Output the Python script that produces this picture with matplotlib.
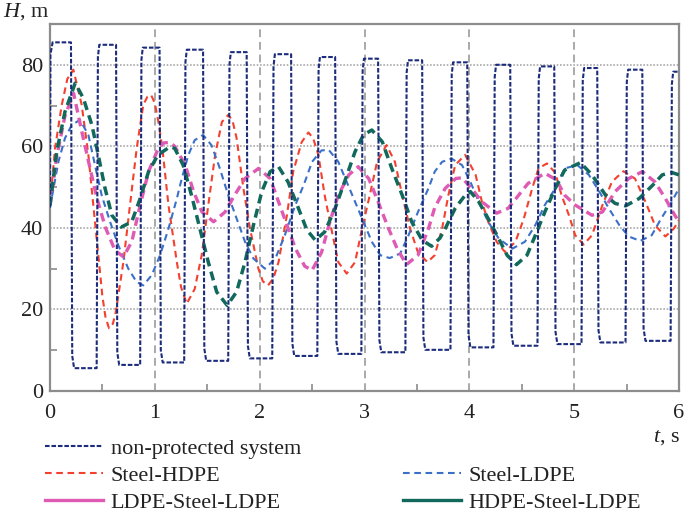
import matplotlib
matplotlib.use("Agg")
import matplotlib.pyplot as plt
from matplotlib.lines import Line2D
import numpy as np

# ---------------- data ----------------
# non-protected system: square-wave plateaus
np_rise_t = [0.00, 0.445, 0.86, 1.28, 1.70, 2.12, 2.55, 2.97, 3.39, 3.82, 4.23, 4.65, 5.07, 5.49, 5.92]
np_fall_t = [0.20, 0.63, 1.045, 1.46, 1.876, 2.30, 2.72, 3.13, 3.55, 3.98, 4.39, 4.81, 5.22, 5.65]
np_high = [85.5, 84.9, 84.2, 83.7, 83.1, 82.6, 81.9, 81.5, 81.1, 80.6, 80.0, 79.6, 79.2, 78.8, 78.3]
np_low = [5.6, 6.4, 7.0, 7.4, 8.0, 8.6, 9.1, 9.5, 10.1, 10.7, 11.1, 11.5, 11.9, 12.3]
np_start = 45.0

hdpe_t = [0, 0.048, 0.111, 0.165, 0.223, 0.302, 0.366, 0.413, 0.461, 0.499, 0.53, 0.563, 0.60, 0.627,
          0.70, 0.763, 0.827, 0.89, 0.93, 0.964, 1.0, 1.034, 1.072, 1.13, 1.21, 1.25, 1.304, 1.38, 1.447, 1.51,
          1.575, 1.64, 1.70, 1.74, 1.78, 1.845, 1.908, 1.988, 2.03, 2.08, 2.13, 2.18, 2.26, 2.32, 2.40, 2.465,
          2.51, 2.56, 2.62, 2.69, 2.75, 2.83, 2.91, 2.97, 3.05, 3.12, 3.21, 3.29, 3.36, 3.435, 3.51, 3.60,
          3.67, 3.74, 3.80, 3.865, 3.96, 4.06, 4.12, 4.18, 4.26, 4.34, 4.44, 4.52, 4.60, 4.66, 4.74, 4.82,
          4.88, 4.95, 5.01, 5.09, 5.17, 5.27, 5.36, 5.47, 5.58, 5.68, 5.77, 5.87, 5.95, 6.0]
hdpe_h = [45.5, 59.5, 70.0, 76.5, 78.8, 70.2, 57.9, 45.6, 33.3, 23.4, 18.0, 15.4, 16.5, 19.3,
          31.6, 45.6, 59.5, 70.2, 72.2, 72.6, 70.6, 66.0, 59.5, 45.6, 31.6, 25.5, 21.4, 25.0, 33.3, 45.6,
          57.9, 66.0, 67.7, 66.4, 62.0, 49.7, 39.8, 30.0, 26.9, 25.9, 27.6, 31.6, 43.1, 53.8, 61.0, 63.4,
          62.0, 57.9, 48.0, 39.0, 31.6, 28.8, 31.6, 39.0, 48.0, 56.2, 60.3, 56.2, 48.0, 39.8, 34.0, 31.6,
          33.3, 39.8, 48.0, 55.4, 57.9, 53.0, 46.4, 41.5, 36.6, 34.1, 36.6, 42.3, 49.7, 54.6, 55.8, 53.5,
          48.0, 43.1, 38.2, 35.9, 38.2, 45.6, 51.3, 53.9, 52.1, 46.4, 40.7, 37.9, 39.8, 41.9]

ldpe_t = [0, 0.08, 0.143, 0.207, 0.286, 0.366, 0.429, 0.493, 0.573, 0.652, 0.747, 0.827, 0.89, 0.97,
          1.05, 1.13, 1.21, 1.256, 1.32, 1.38, 1.46, 1.54, 1.62, 1.70, 1.78, 1.86, 1.94, 2.05, 2.15,
          2.24, 2.34, 2.42, 2.50, 2.59, 2.66, 2.75, 2.83, 2.91, 2.99, 3.07, 3.15, 3.24, 3.34, 3.42,
          3.51, 3.61, 3.67, 3.74, 3.83, 3.93, 4.01, 4.09, 4.18, 4.28, 4.41, 4.53, 4.63, 4.72, 4.82,
          4.91, 5.03, 5.14, 5.24, 5.33, 5.43, 5.52, 5.63, 5.74, 5.83, 5.93, 6.0]
ldpe_h = [45.0, 56.2, 62.0, 65.2, 66.5, 62.8, 55.4, 48.0, 41.5, 35.7, 30.0, 26.7, 25.9, 28.4,
          33.3, 39.8, 47.2, 52.0, 57.9, 61.5, 62.8, 60.3, 54.6, 48.0, 42.3, 36.6, 32.5, 30.0, 32.5,
          38.2, 45.6, 50.5, 56.2, 59.0, 59.1, 56.2, 51.3, 46.4, 41.5, 36.6, 33.3, 32.6, 33.7, 38.2,
          43.9, 49.7, 53.8, 56.2, 57.0, 55.4, 51.3, 46.4, 41.5, 37.4, 34.9, 36.6, 40.7, 45.6, 49.7,
          54.6, 55.4, 53.0, 48.9, 44.8, 40.7, 37.9, 36.8, 38.2, 42.3, 46.4, 49.7]

lsl_t = [0, 0.064, 0.143, 0.225, 0.30, 0.37, 0.45, 0.53, 0.62, 0.70, 0.78, 0.86, 0.94, 1.02, 1.08,
         1.14, 1.19, 1.29, 1.37, 1.45, 1.56, 1.67, 1.76, 1.86, 1.99, 2.10, 2.18, 2.26, 2.34, 2.43,
         2.50, 2.59, 2.67, 2.75, 2.85, 2.94, 3.04, 3.13, 3.23, 3.31, 3.40, 3.51, 3.61, 3.67, 3.77,
         3.87, 3.93, 4.02, 4.12, 4.26, 4.37, 4.47, 4.56, 4.72, 4.83, 4.91, 5.01, 5.17, 5.27, 5.39,
         5.52, 5.65, 5.77, 5.87, 5.96, 6.0]
lsl_h = [45.5, 57.5, 67.5, 73.0, 64.0, 56.0, 47.0, 40.0, 34.5, 32.9, 36.6, 45.6, 53.8, 58.7, 60.8,
         61.0, 60.0, 55.4, 48.9, 43.9, 41.5, 43.9, 48.0, 52.1, 54.6, 52.1, 46.4, 40.7, 35.0, 30.6,
         29.6, 34.0, 41.5, 48.0, 53.0, 55.0, 52.1, 46.4, 39.8, 35.0, 31.0, 33.3, 39.8, 45.0, 49.7,
         52.1, 52.3, 49.7, 46.4, 43.6, 44.8, 48.0, 50.9, 53.4, 51.8, 48.0, 45.6, 43.1, 43.9, 48.9,
         52.1, 53.8, 51.3, 47.2, 43.1, 41.5]

hsl_t = [0, 0.064, 0.143, 0.24, 0.318, 0.40, 0.46, 0.525, 0.59, 0.68, 0.78, 0.86, 0.94, 1.03, 1.145,
         1.19, 1.27, 1.35, 1.43, 1.51, 1.59, 1.69, 1.78, 1.86, 1.94, 2.02, 2.10, 2.18, 2.27, 2.37,
         2.45, 2.53, 2.62, 2.72, 2.81, 2.91, 2.99, 3.07, 3.17, 3.26, 3.36, 3.45, 3.55, 3.64, 3.72,
         3.77, 3.865, 3.96, 4.01, 4.09, 4.18, 4.28, 4.36, 4.45, 4.55, 4.63, 4.72, 4.82, 4.91, 5.06,
         5.17, 5.30, 5.39, 5.49, 5.62, 5.75, 5.84, 5.93, 6.0]
hsl_h = [45.5, 58.7, 68.5, 75.5, 71.8, 65.2, 57.9, 49.7, 43.1, 40.2, 41.5, 47.2, 53.8, 57.9, 59.9,
         59.5, 55.4, 48.0, 39.8, 31.6, 24.3, 21.0, 24.3, 31.6, 40.6, 48.9, 53.8, 55.0, 51.3, 44.8,
         39.5, 37.0, 39.0, 44.8, 51.3, 58.7, 62.8, 64.0, 61.1, 54.6, 48.0, 41.5, 37.0, 35.5, 37.5,
         39.8, 44.8, 48.0, 48.9, 46.4, 42.3, 37.4, 33.3, 31.0, 33.3, 38.2, 43.9, 49.7, 54.2, 56.0,
         53.0, 48.0, 46.0, 45.4, 47.2, 50.5, 53.0, 53.6, 53.0]

labels = ["non-protected system", "Steel-HDPE", "Steel-LDPE", "LDPE-Steel-LDPE", "HDPE-Steel-LDPE"]
x_ticks = [0, 1, 2, 3, 4, 5, 6]
y_ticks = [0, 20, 40, 60, 80]

# ---------------- build square wave polyline from plateau data ----------------
np_t = [0.0]
np_h = [np_start]
for i in range(len(np_rise_t)):
    np_t += [np_rise_t[i] + 0.012, np_rise_t[i] + 0.025]
    np_h += [np_high[i] - 3.0, np_high[i]]
    if i < len(np_fall_t):
        np_t += [np_fall_t[i], np_fall_t[i] + 0.012, np_fall_t[i] + 0.03]
        np_h += [np_high[i], np_low[i] + 3.0, np_low[i]]
        nxt = np_rise_t[i + 1]
        np_t += [nxt]
        np_h += [np_low[i]]
np_t.append(6.0)
np_h.append(np_high[-1])
np_t[1] = 0.004

# ---------------- figure ----------------
serif = ["Liberation Serif", "DejaVu Serif"]
plt.rcParams["font.family"] = serif
plt.rcParams["mathtext.fontset"] = "custom"
plt.rcParams["mathtext.it"] = "Liberation Serif:italic"
plt.rcParams["mathtext.rm"] = "Liberation Serif"

fig = plt.figure(figsize=(6.85, 5.15), dpi=100)
ax = fig.add_axes([50 / 685, 1 - 391 / 515, 629 / 685, 367 / 515])

c_np = "#1c2c7c"
c_red = "#f4402e"
c_blue = "#3b70c8"
c_mag = "#df5ab3"
c_grn = "#11695b"

ax.plot(hdpe_t, hdpe_h, color=c_red, lw=1.5, dashes=(3.2, 2.2), zorder=3)
ax.plot(ldpe_t, ldpe_h, color=c_blue, lw=1.5, dashes=(3.2, 2.2), zorder=3)
ax.plot(lsl_t, lsl_h, color=c_mag, lw=2.4, dashes=(2.6, 1.6), zorder=4)
ax.plot(hsl_t, hsl_h, color=c_grn, lw=2.5, dashes=(2.6, 1.6), zorder=5)
ax.plot(np_t, np_h, color=c_np, lw=1.5, dashes=(2.2, 0.9), zorder=6)

ax.set_xlim(0, 6)
ax.set_ylim(0, 90)
ax.set_xticks(x_ticks)
ax.set_yticks(y_ticks)
ax.set_xticks(np.arange(0.5, 6, 1.0), minor=True)
ax.set_yticks([10, 30, 50, 70], minor=True)
ax.set_xticklabels([str(v) for v in x_ticks])
ax.set_yticklabels([str(v) for v in y_ticks])

ax.grid(axis="y", which="major", color="#a9a9a9", linestyle=(0, (1, 1)), lw=1.2, zorder=0)
ax.grid(axis="x", which="major", color="#a9a9a9", linestyle=(0, (4, 2.5)), lw=1.4, zorder=0)

for s in ax.spines.values():
    s.set_color("#8c8c8c")
    s.set_linewidth(1.6)

ax.tick_params(which="both", direction="in", color="#8c8c8c", width=1.2)
ax.tick_params(which="major", length=0)
ax.tick_params(which="minor", length=5)
ax.tick_params(axis="y", which="major", pad=5, labelsize=16, labelcolor="#222222")
ax.tick_params(axis="x", which="major", pad=9, labelsize=16, labelcolor="#222222")

fig.text(0.004, 0.977, "$H$, m", fontsize=16, ha="left", va="center", color="#222222")
fig.text(0.993, 0.151, "$t$, s", fontsize=16, ha="right", va="center", color="#222222")

handles = [
    Line2D([], [], color=c_np, lw=1.5, dashes=(2.2, 0.9)),
    Line2D([], [], color=c_red, lw=1.5, dashes=(3.2, 2.2)),
    Line2D([], [], color=c_mag, lw=2.4),
    Line2D([], [], color="none", lw=0),
    Line2D([], [], color=c_blue, lw=1.5, dashes=(3.2, 2.2)),
    Line2D([], [], color=c_grn, lw=2.4),
]
leg_labels = [labels[0], labels[1], labels[3], "", labels[2], labels[4]]
fig.legend(handles, leg_labels, loc="upper left", bbox_to_anchor=(45 / 685, 1 - 438 / 515),
           ncol=2, frameon=False, fontsize=16, handlelength=2.6, handletextpad=0.35,
           labelspacing=0.3, columnspacing=4.6, borderpad=0, borderaxespad=0,
           labelcolor="#222222")

fig.savefig("out.png", dpi=100)
